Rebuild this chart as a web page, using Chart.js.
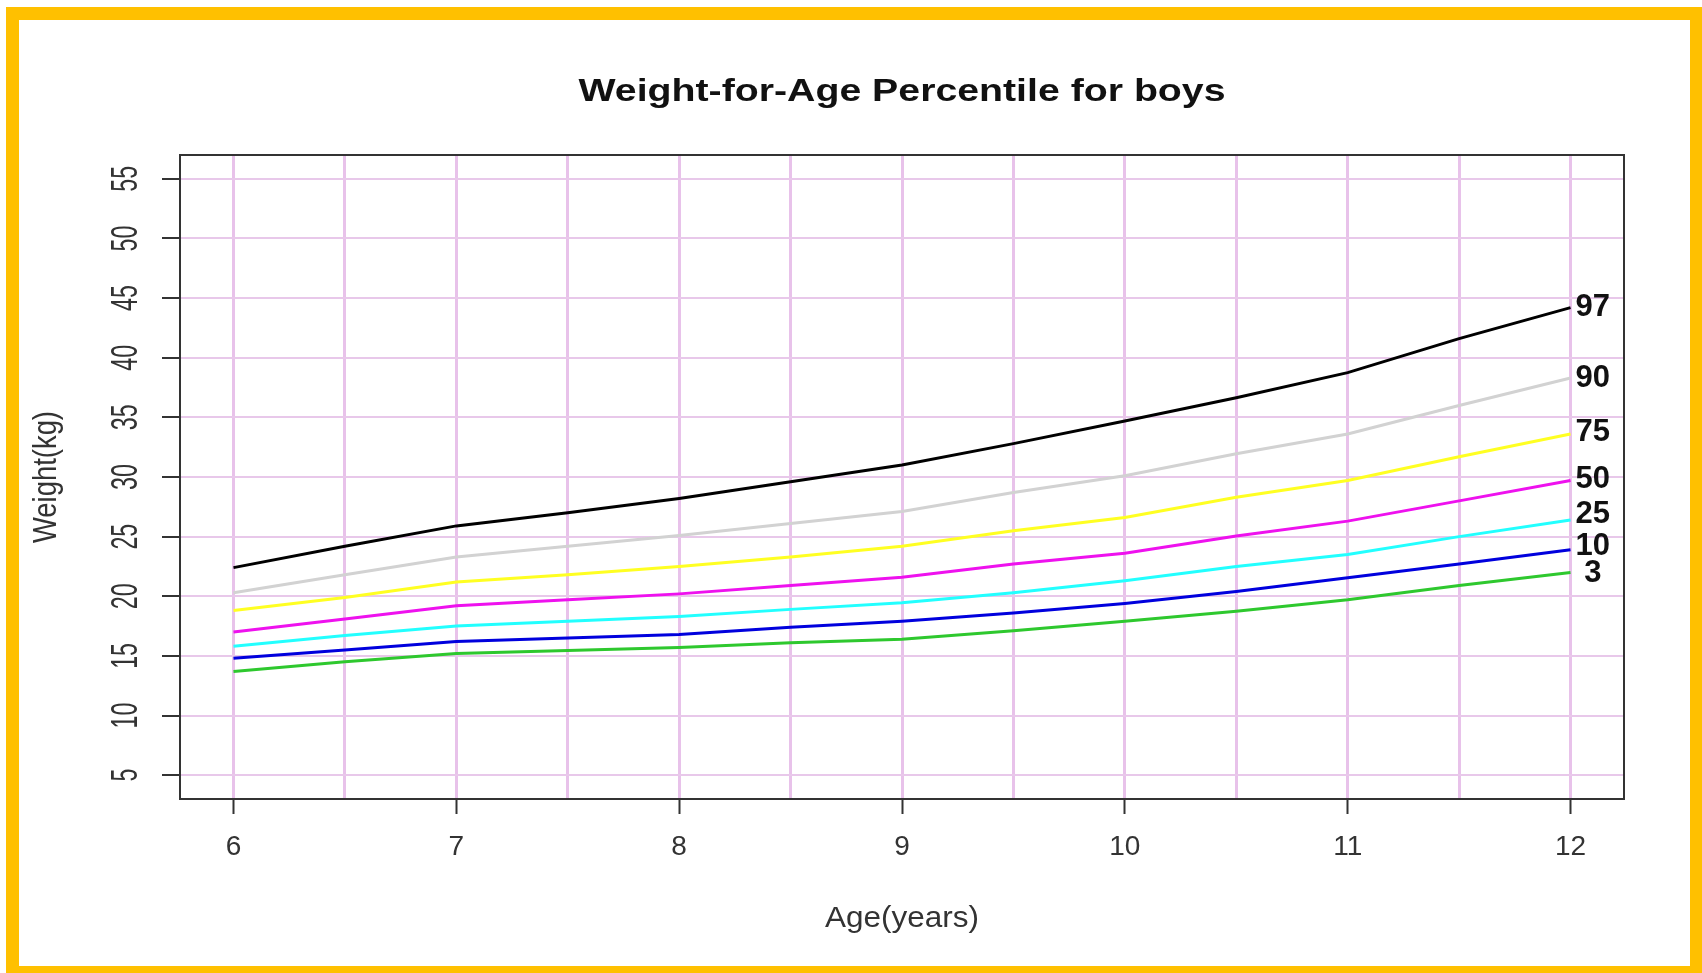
<!DOCTYPE html>
<html>
<head>
<meta charset="utf-8">
<script src="https://cdn.jsdelivr.net/npm/chart.js@4.4.1/dist/chart.umd.min.js"></script>
<style>
  html, body { margin: 0; padding: 0; background: #ffffff; }
  #frame { position: absolute; left: 6px; top: 7px; width: 1671px; height: 946px;
           border-style: solid; border-color: #FFC000; border-width: 13px 12px 7px 13px; background: #fff; }
  #c { position: absolute; left: 0; top: 0; }
</style>
</head>
<body>
<div id="frame"></div>
<canvas id="c" width="1702" height="973"></canvas>
<script>
// ---- data ----
const ages = [6, 6.5, 7, 7.5, 8, 8.5, 9, 9.5, 10, 10.5, 11, 11.5, 12];
const p97 = [22.4, 24.2, 25.9, 27.0, 28.2, 29.6, 31.0, 32.8, 34.7, 36.65, 38.75, 41.6, 44.2];
const p90 = [20.3, 21.8, 23.3, 24.2, 25.1, 26.1, 27.1, 28.7, 30.1, 31.95, 33.6, 36.0, 38.3];
const p75 = [18.8, 19.9, 21.2, 21.8, 22.5, 23.3, 24.2, 25.5, 26.6, 28.3, 29.7, 31.7, 33.6];
const p50 = [17.0, 18.1, 19.2, 19.7, 20.2, 20.9, 21.6, 22.7, 23.6, 25.05, 26.3, 28.0, 29.7];
const p25 = [15.8, 16.7, 17.5, 17.9, 18.3, 18.9, 19.45, 20.3, 21.3, 22.5, 23.5, 25.0, 26.4];
const p10 = [14.8, 15.5, 16.2, 16.5, 16.8, 17.4, 17.9, 18.6, 19.4, 20.4, 21.55, 22.7, 23.9];
const p3  = [13.7, 14.5, 15.2, 15.45, 15.7, 16.1, 16.4, 17.1, 17.9, 18.75, 19.7, 20.9, 22.0];
const seriesLabels = ['97', '90', '75', '50', '25', '10', '3'];
const labelPosY = [44.2, 38.3, 33.7, 29.8, 26.9, 24.2, 21.9];
const labelPosX = 12.1;
const yTickValues = [5, 10, 15, 20, 25, 30, 35, 40, 45, 50, 55];
const xTickValues = [6, 7, 8, 9, 10, 11, 12];
const titleText = 'Weight-for-Age Percentile for boys';
const xTitle = 'Age(years)';
const yTitle = 'Weight(kg)';

const seriesValues = [p97, p90, p75, p50, p25, p10, p3];
const seriesColors = ['#000000', '#d2d2d2', '#ffff22', '#ee11ee', '#22ffff', '#0000dd', '#2ec82e'];

const FONT = '"Liberation Sans", Arial, Helvetica, sans-serif';

function drawText(ctx, s, x, y, o) {
  ctx.save();
  ctx.translate(x, y);
  if (o.rot) ctx.rotate(o.rot);
  ctx.font = (o.bold ? 'bold ' : '') + o.size + 'px ' + FONT;
  let sx = o.sx || 1;
  if (o.width) sx = o.width / ctx.measureText(s).width;
  ctx.scale(sx, o.sy || 1);
  ctx.textAlign = o.align || 'center';
  ctx.textBaseline = o.baseline || 'alphabetic';
  ctx.fillStyle = o.color || '#000';
  ctx.fillText(s, 0, 0);
  ctx.restore();
}

const decor = {
  id: 'decor',
  afterDraw(chart) {
    const ctx = chart.ctx;
    const a = chart.chartArea;
    const xs = chart.scales.x, ys = chart.scales.y;
    // plot box
    ctx.save();
    ctx.strokeStyle = '#333';
    ctx.lineWidth = 2;
    ctx.strokeRect(a.left, a.top, a.right - a.left, a.bottom - a.top);
    ctx.restore();
    // y tick labels (rotated, as in R)
    yTickValues.forEach(v => {
      drawText(ctx, String(v), 137, ys.getPixelForValue(v),
        {size: 28, rot: -Math.PI / 2, sx: 0.83, sy: 1.3, color: '#333'});
    });
    // title
    drawText(ctx, titleText, (a.left + a.right) / 2, 101, {size: 31, bold: true, width: 647, color: '#111'});
    // axis titles
    drawText(ctx, xTitle, (a.left + a.right) / 2, 927, {size: 30, width: 154, color: '#333'});
    drawText(ctx, yTitle, 56, (a.top + a.bottom) / 2, {size: 30, rot: -Math.PI / 2, width: 132, sy: 1.1, color: '#333'});
    // percentile labels at line ends
    seriesLabels.forEach((s, i) => {
      drawText(ctx, s, xs.getPixelForValue(labelPosX), ys.getPixelForValue(labelPosY[i]),
        {size: 31, bold: true, baseline: 'middle', color: '#111'});
    });
  }
};

new Chart(document.getElementById('c'), {
  type: 'line',
  data: {
    datasets: seriesValues.map((vals, i) => ({
      label: seriesLabels[i],
      data: ages.map((a, j) => ({x: a, y: vals[j]})),
      borderColor: seriesColors[i],
      backgroundColor: seriesColors[i],
      borderWidth: 3,
      pointRadius: 0,
      tension: 0,
      fill: false
    }))
  },
  options: {
    responsive: false,
    animation: false,
    layout: { padding: { left: 180, right: 78, top: 155, bottom: 74 } },
    plugins: { legend: { display: false }, title: { display: false }, tooltip: { enabled: false } },
    scales: {
      x: {
        type: 'linear',
        min: 5.76, max: 12.24,
        border: { display: false },
        afterFit(scale) { scale.height = 100; },
        grid: {
          color: '#e8c2ea',
          lineWidth: 3,
          drawTicks: true,
          tickLength: 15,
          tickWidth: 2,
          tickColor: c => (Number.isInteger(c.tick.value) ? '#333' : 'rgba(0,0,0,0)')
        },
        ticks: {
          stepSize: 0.5,
          includeBounds: false,
          maxTicksLimit: 30,
          autoSkip: false,
          maxRotation: 0,
          minRotation: 0,
          padding: 16,
          color: '#333',
          font: { size: 28, family: FONT },
          callback: v => (xTickValues.includes(v) ? String(v) : '')
        }
      },
      y: {
        type: 'linear',
        min: 3, max: 57,
        border: { display: false },
        afterFit(scale) { scale.width = 0; },
        grid: {
          color: '#e8c8ea',
          lineWidth: 2,
          drawTicks: true,
          tickLength: 18,
          tickWidth: 2,
          tickColor: '#333'
        },
        ticks: {
          stepSize: 5,
          includeBounds: false,
          maxTicksLimit: 30,
          display: false
        }
      }
    }
  },
  plugins: [decor]
});
</script>
</body>
</html>
